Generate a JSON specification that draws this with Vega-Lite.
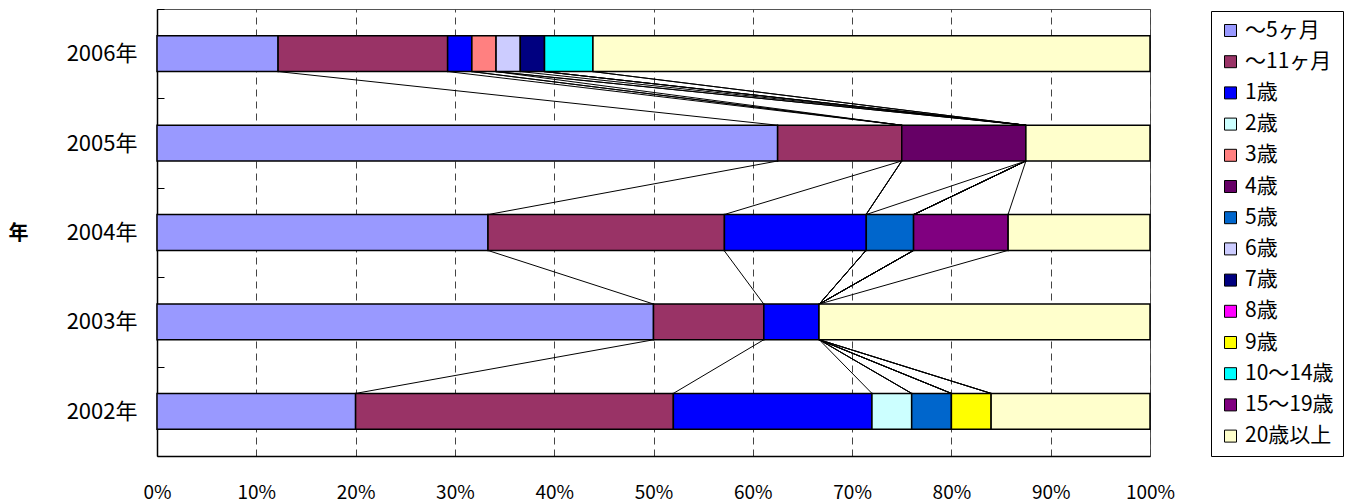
{
  "$schema": "https://vega.github.io/schema/vega-lite/v6.json",
  "autosize": {"type": "none"},
  "padding": {"left": 157, "top": 9, "right": 203, "bottom": 46},
  "width": 993,
  "height": 447,
  "background": "white",
  "config": {
    "font": "Noto Sans CJK JP",
    "view": {"stroke": "#555", "strokeWidth": 1},
    "axis": {"labelColor": "black", "titleColor": "black"}
  },
  "datasets": {
    "bars": [
      {"year": "2006年", "age": "～5ヶ月", "k": 1, "n": 5},
      {"year": "2006年", "age": "～11ヶ月", "k": 2, "n": 7},
      {"year": "2006年", "age": "1歳", "k": 3, "n": 1},
      {"year": "2006年", "age": "3歳", "k": 5, "n": 1},
      {"year": "2006年", "age": "6歳", "k": 8, "n": 1},
      {"year": "2006年", "age": "7歳", "k": 9, "n": 1},
      {"year": "2006年", "age": "10～14歳", "k": 12, "n": 2},
      {"year": "2006年", "age": "20歳以上", "k": 14, "n": 23},
      {"year": "2005年", "age": "～5ヶ月", "k": 1, "n": 5},
      {"year": "2005年", "age": "～11ヶ月", "k": 2, "n": 1},
      {"year": "2005年", "age": "4歳", "k": 6, "n": 1},
      {"year": "2005年", "age": "20歳以上", "k": 14, "n": 1},
      {"year": "2004年", "age": "～5ヶ月", "k": 1, "n": 7},
      {"year": "2004年", "age": "～11ヶ月", "k": 2, "n": 5},
      {"year": "2004年", "age": "1歳", "k": 3, "n": 3},
      {"year": "2004年", "age": "5歳", "k": 7, "n": 1},
      {"year": "2004年", "age": "15～19歳", "k": 13, "n": 2},
      {"year": "2004年", "age": "20歳以上", "k": 14, "n": 3},
      {"year": "2003年", "age": "～5ヶ月", "k": 1, "n": 9},
      {"year": "2003年", "age": "～11ヶ月", "k": 2, "n": 2},
      {"year": "2003年", "age": "1歳", "k": 3, "n": 1},
      {"year": "2003年", "age": "20歳以上", "k": 14, "n": 6},
      {"year": "2002年", "age": "～5ヶ月", "k": 1, "n": 5},
      {"year": "2002年", "age": "～11ヶ月", "k": 2, "n": 8},
      {"year": "2002年", "age": "1歳", "k": 3, "n": 5},
      {"year": "2002年", "age": "2歳", "k": 4, "n": 1},
      {"year": "2002年", "age": "5歳", "k": 7, "n": 1},
      {"year": "2002年", "age": "9歳", "k": 11, "n": 1},
      {"year": "2002年", "age": "20歳以上", "k": 14, "n": 4}
    ],
    "lines": [
      {"from": "2006年", "to": "2005年", "a": 0.122, "b": 0.625},
      {"from": "2006年", "to": "2005年", "a": 0.293, "b": 0.75},
      {"from": "2006年", "to": "2005年", "a": 0.317, "b": 0.75},
      {"from": "2006年", "to": "2005年", "a": 0.317, "b": 0.75},
      {"from": "2006年", "to": "2005年", "a": 0.341, "b": 0.75},
      {"from": "2006年", "to": "2005年", "a": 0.341, "b": 0.875},
      {"from": "2006年", "to": "2005年", "a": 0.341, "b": 0.875},
      {"from": "2006年", "to": "2005年", "a": 0.366, "b": 0.875},
      {"from": "2006年", "to": "2005年", "a": 0.390, "b": 0.875},
      {"from": "2006年", "to": "2005年", "a": 0.390, "b": 0.875},
      {"from": "2006年", "to": "2005年", "a": 0.390, "b": 0.875},
      {"from": "2006年", "to": "2005年", "a": 0.439, "b": 0.875},
      {"from": "2006年", "to": "2005年", "a": 0.439, "b": 0.875},
      {"from": "2005年", "to": "2004年", "a": 0.625, "b": 0.333},
      {"from": "2005年", "to": "2004年", "a": 0.75, "b": 0.571},
      {"from": "2005年", "to": "2004年", "a": 0.75, "b": 0.714},
      {"from": "2005年", "to": "2004年", "a": 0.75, "b": 0.714},
      {"from": "2005年", "to": "2004年", "a": 0.75, "b": 0.714},
      {"from": "2005年", "to": "2004年", "a": 0.875, "b": 0.714},
      {"from": "2005年", "to": "2004年", "a": 0.875, "b": 0.762},
      {"from": "2005年", "to": "2004年", "a": 0.875, "b": 0.762},
      {"from": "2005年", "to": "2004年", "a": 0.875, "b": 0.762},
      {"from": "2005年", "to": "2004年", "a": 0.875, "b": 0.762},
      {"from": "2005年", "to": "2004年", "a": 0.875, "b": 0.762},
      {"from": "2005年", "to": "2004年", "a": 0.875, "b": 0.762},
      {"from": "2005年", "to": "2004年", "a": 0.875, "b": 0.857},
      {"from": "2004年", "to": "2003年", "a": 0.333, "b": 0.5},
      {"from": "2004年", "to": "2003年", "a": 0.571, "b": 0.611},
      {"from": "2004年", "to": "2003年", "a": 0.714, "b": 0.667},
      {"from": "2004年", "to": "2003年", "a": 0.714, "b": 0.667},
      {"from": "2004年", "to": "2003年", "a": 0.714, "b": 0.667},
      {"from": "2004年", "to": "2003年", "a": 0.714, "b": 0.667},
      {"from": "2004年", "to": "2003年", "a": 0.762, "b": 0.667},
      {"from": "2004年", "to": "2003年", "a": 0.762, "b": 0.667},
      {"from": "2004年", "to": "2003年", "a": 0.762, "b": 0.667},
      {"from": "2004年", "to": "2003年", "a": 0.762, "b": 0.667},
      {"from": "2004年", "to": "2003年", "a": 0.762, "b": 0.667},
      {"from": "2004年", "to": "2003年", "a": 0.762, "b": 0.667},
      {"from": "2004年", "to": "2003年", "a": 0.857, "b": 0.667},
      {"from": "2003年", "to": "2002年", "a": 0.5, "b": 0.2},
      {"from": "2003年", "to": "2002年", "a": 0.611, "b": 0.52},
      {"from": "2003年", "to": "2002年", "a": 0.667, "b": 0.72},
      {"from": "2003年", "to": "2002年", "a": 0.667, "b": 0.76},
      {"from": "2003年", "to": "2002年", "a": 0.667, "b": 0.76},
      {"from": "2003年", "to": "2002年", "a": 0.667, "b": 0.76},
      {"from": "2003年", "to": "2002年", "a": 0.667, "b": 0.80},
      {"from": "2003年", "to": "2002年", "a": 0.667, "b": 0.80},
      {"from": "2003年", "to": "2002年", "a": 0.667, "b": 0.80},
      {"from": "2003年", "to": "2002年", "a": 0.667, "b": 0.80},
      {"from": "2003年", "to": "2002年", "a": 0.667, "b": 0.84},
      {"from": "2003年", "to": "2002年", "a": 0.667, "b": 0.84},
      {"from": "2003年", "to": "2002年", "a": 0.667, "b": 0.84}
    ]
  },
  "layer": [
    {
      "data": {"name": "bars"},
      "mark": {"type": "bar", "stroke": "black", "strokeWidth": 1.5, "opacity": 1},
      "encoding": {
        "y": {
          "field": "year", "type": "nominal", "title": "年",
          "scale": {"domain": ["2006年", "2005年", "2004年", "2003年", "2002年"], "paddingInner": 0.6, "paddingOuter": 0.3},
          "axis": {
            "labelFontSize": 22, "labelFont": "Noto Sans CJK JP", "labelFontWeight": 400, "labelPadding": 27,
            "tickOffset": -44.7, "labelOffset": 44.7,
            "tickSize": -7, "tickColor": "black", "tickWidth": 1,
            "domainColor": "black", "domainWidth": 1.5,
            "titleAngle": 0, "titleFontSize": 20, "titleFontWeight": "bold",
            "titleX": -139, "titleY": 224, "titleAlign": "center", "titleBaseline": "middle"
          }
        },
        "x": {
          "field": "n", "type": "quantitative", "stack": "normalize", "title": null,
          "scale": {"domain": [0, 1]},
          "axis": {
            "format": "%", "values": [0, 0.1, 0.2, 0.3, 0.4, 0.5, 0.6, 0.7, 0.8, 0.9, 1],
            "labelFontSize": 19, "labelFontWeight": 400, "labelPadding": 27, "ticks": false,
            "grid": true, "gridDash": [7, 5], "gridColor": "#444", "gridWidth": 1,
            "domainColor": "black", "domainWidth": 1.5, "labelFlush": false
          }
        },
        "order": {"field": "k", "type": "quantitative"},
        "color": {
          "field": "age", "type": "nominal",
          "scale": {
            "domain": ["～5ヶ月", "～11ヶ月", "1歳", "2歳", "3歳", "4歳", "5歳", "6歳", "7歳", "8歳", "9歳", "10～14歳", "15～19歳", "20歳以上"],
            "range": ["#9999FF", "#993366", "#0000FF", "#CCFFFF", "#FF8080", "#660066", "#0066CC", "#CCCCFF", "#000080", "#FF00FF", "#FFFF00", "#00FFFF", "#800080", "#FFFFCC"]
          },
          "legend": {
            "orient": "none", "legendX": 1054, "legendY": 2, "title": null,
            "symbolType": "square", "symbolSize": 144, "symbolStrokeColor": "black", "symbolStrokeWidth": 1,
            "symbolOpacity": 1,
            "labelFontSize": 21, "labelFont": "Noto Sans CJK JP", "labelFontWeight": 400, "labelColor": "black", "labelOffset": 4, "labelLimit": 200,
            "rowPadding": 9.2, "padding": 9, "strokeColor": "black", "fillColor": "white"
          }
        }
      }
    },
    {
      "data": {"name": "lines"},
      "mark": {"type": "rule", "color": "black", "strokeWidth": 1},
      "encoding": {
        "y": {"field": "from", "type": "nominal", "bandPosition": 1},
        "y2": {"field": "to", "bandPosition": 0},
        "x": {"field": "a", "type": "quantitative"},
        "x2": {"field": "b"}
      }
    }
  ]
}
